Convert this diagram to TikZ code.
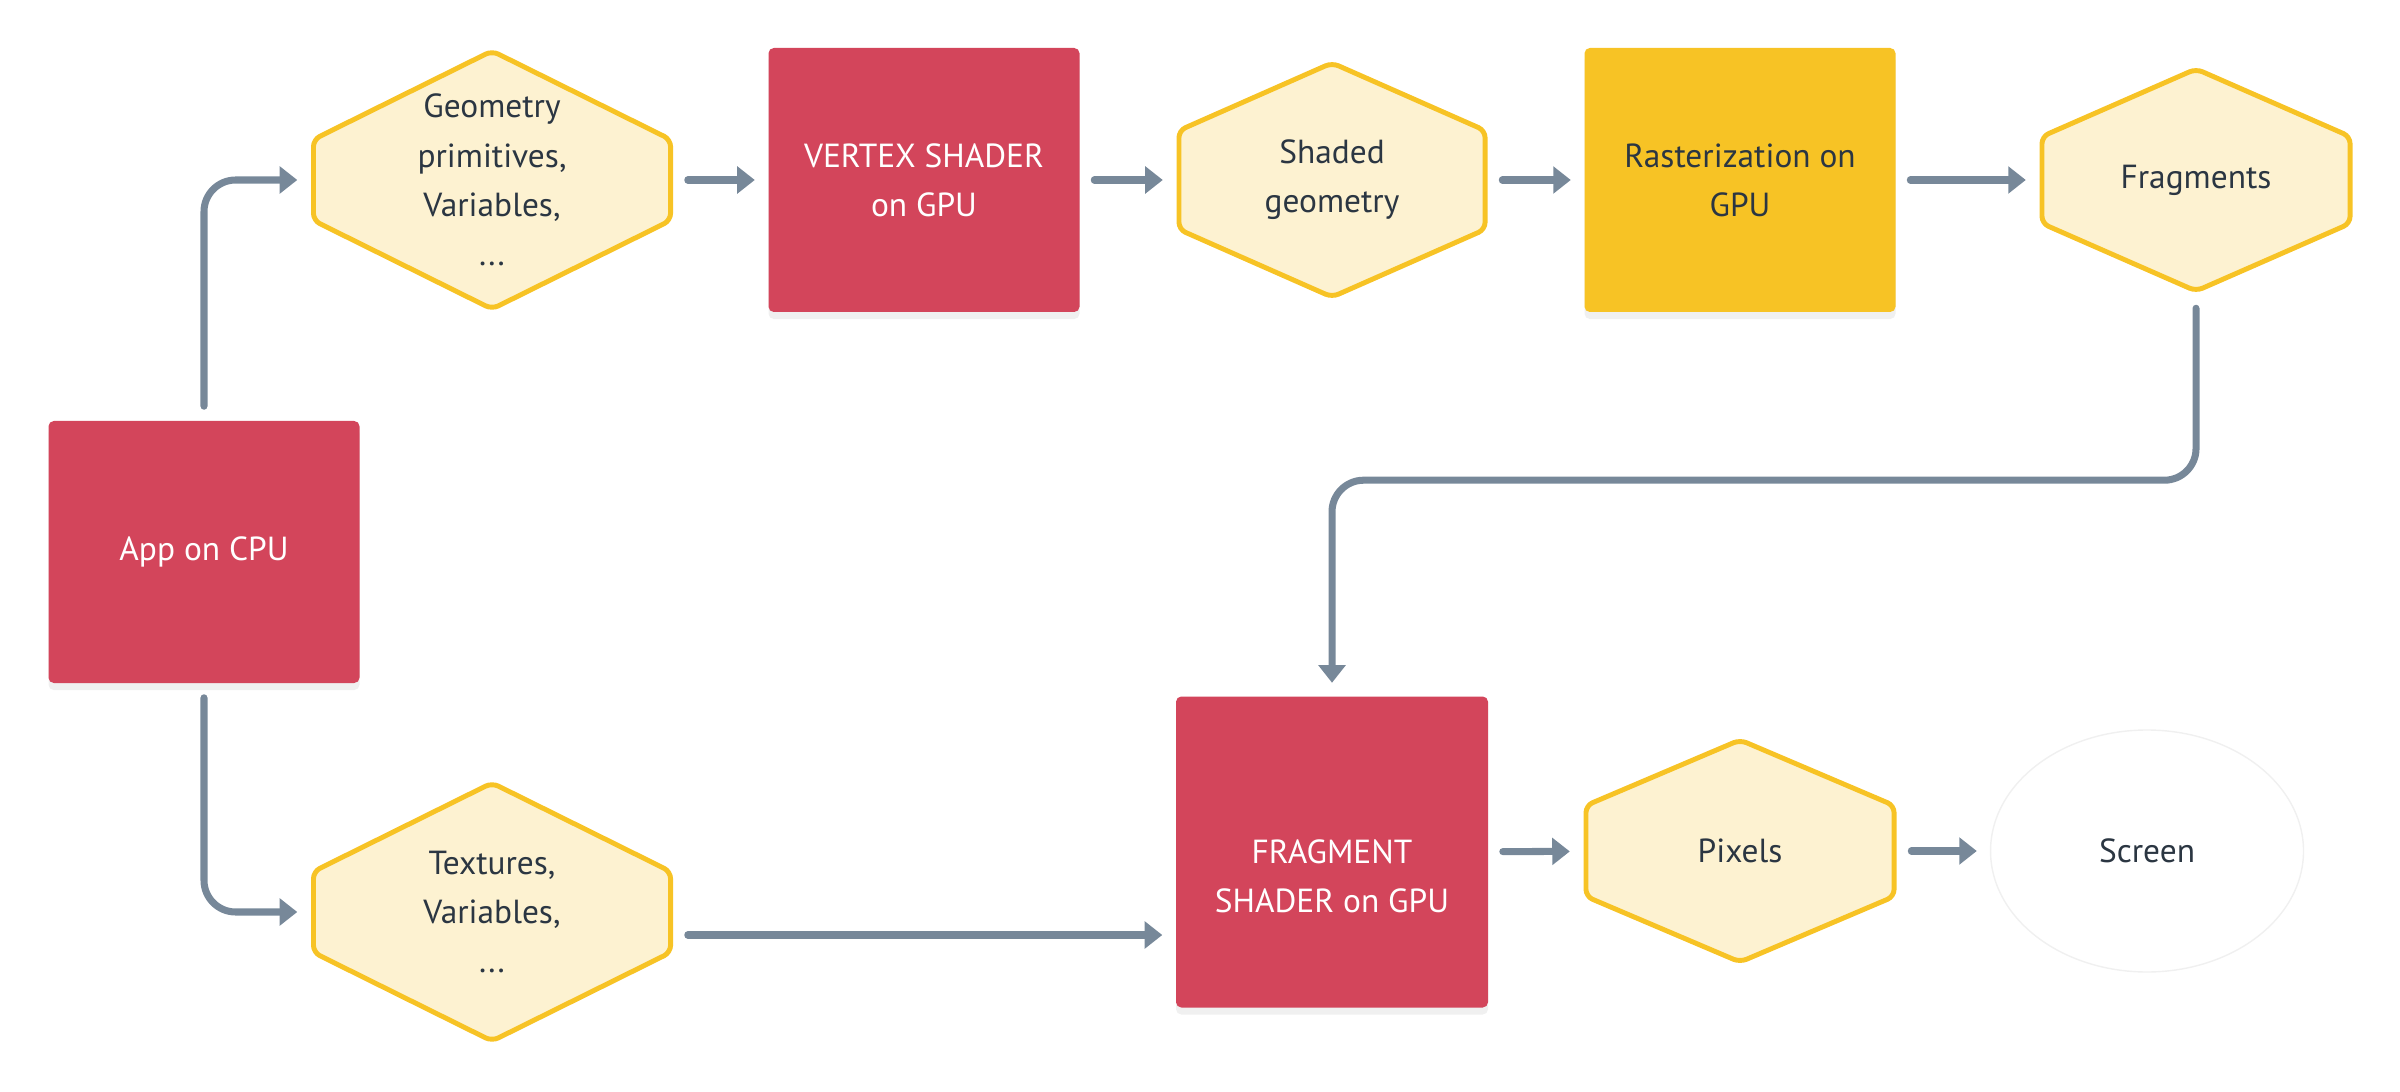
\documentclass[tikz,border=0pt]{standalone}
\usepackage{fontspec}
\setmainfont{PT Sans}
\usetikzlibrary{arrows.meta, shapes.geometric, shadows}
\definecolor{crimson}{HTML}{D3455B}
\definecolor{amber}{HTML}{F7C325}
\definecolor{cream}{HTML}{FDF2D1}
\definecolor{slate}{HTML}{778899}
\definecolor{ink}{HTML}{2B3642}
\begin{document}
\begin{tikzpicture}[font=\fontsize{9.5}{14}\selectfont, >={Triangle[length=5pt, width=7.5pt]},
      box/.style={rounded corners=1.5pt, align=center, minimum width=3.11cm, minimum height=2.64cm,
        drop shadow={shadow xshift=0pt, shadow yshift=-2pt, opacity=0.12}},
      gpu/.style={box, fill=crimson, text=white},
      yel/.style={box, fill=amber, text=ink},
      hexa/.style={align=center, text=ink, inner sep=0pt, path picture={
        \filldraw[fill=cream, draw=amber, line width=1.4pt, rounded corners=2pt]
          ([yshift=-0.7pt]path picture bounding box.north)
          -- ([xshift=-0.7pt, yshift=-#1]path picture bounding box.north east)
          -- ([xshift=-0.7pt, yshift=#1]path picture bounding box.south east)
          -- ([yshift=0.7pt]path picture bounding box.south)
          -- ([xshift=0.7pt, yshift=#1]path picture bounding box.south west)
          -- ([xshift=0.7pt, yshift=-#1]path picture bounding box.north west) -- cycle;}},
      flow/.style={->, slate, line width=2pt, line cap=round, rounded corners=9pt,
        shorten <=4pt, shorten >=3.7pt}]
    \useasboundingbox (0,0) rectangle (24,-10.92);
    \node[gpu, minimum height=2.62cm] (app) at (2.04,-5.52) {App on CPU};
    \node[hexa=0.91cm, minimum width=3.62cm, minimum height=2.63cm] (geo) at (4.92,-1.80) {Geometry\\primitives,\\Variables,\\...};
    \node[gpu] (vtx) at (9.24,-1.80) {VERTEX SHADER\\on GPU};
    \node[hexa=0.70cm, minimum width=3.11cm, minimum height=2.39cm] (shd) at (13.32,-1.80) {Shaded\\geometry};
    \node[yel] (ras) at (17.40,-1.80) {Rasterization on\\GPU};
    \node[hexa=0.70cm, minimum width=3.13cm, minimum height=2.27cm] (frg) at (21.96,-1.80) {Fragments};
    \node[hexa=0.91cm, minimum width=3.62cm, minimum height=2.63cm] (tex) at (4.92,-9.12) {Textures,\\Variables,\\...};
    \node[gpu, minimum width=3.12cm, minimum height=3.11cm,
      label={[text=white, align=center, yshift=-0.24cm]center:FRAGMENT\\SHADER on GPU}] (fsh) at (13.32,-8.52) {};
    \node[hexa=0.68cm, minimum width=3.13cm, minimum height=2.27cm] (pix) at (17.40,-8.51) {Pixels};
    \node[ellipse, draw=black!6, fill=white, text=ink, minimum width=3.13cm, minimum height=2.42cm] (scr) at (21.47,-8.51) {Screen};
    \draw[flow] (app.north) |- (geo.west);
    \draw[flow] (geo) -- (vtx);
    \draw[flow] (vtx) -- (shd);
    \draw[flow] (shd) -- (ras);
    \draw[flow] (ras) -- (frg);
    \draw[flow] (frg.south) -- ++(0,-1.86) -| (fsh.north);
    \draw[flow] (app.south) |- (tex.west);
    \draw[flow] ([yshift=-0.23cm]tex.east) -- ([yshift=-0.23cm]tex.east -| fsh.west);
    \draw[flow] (fsh) -- (pix);
    \draw[flow] (pix) -- (scr);
  \end{tikzpicture}
\end{document}
